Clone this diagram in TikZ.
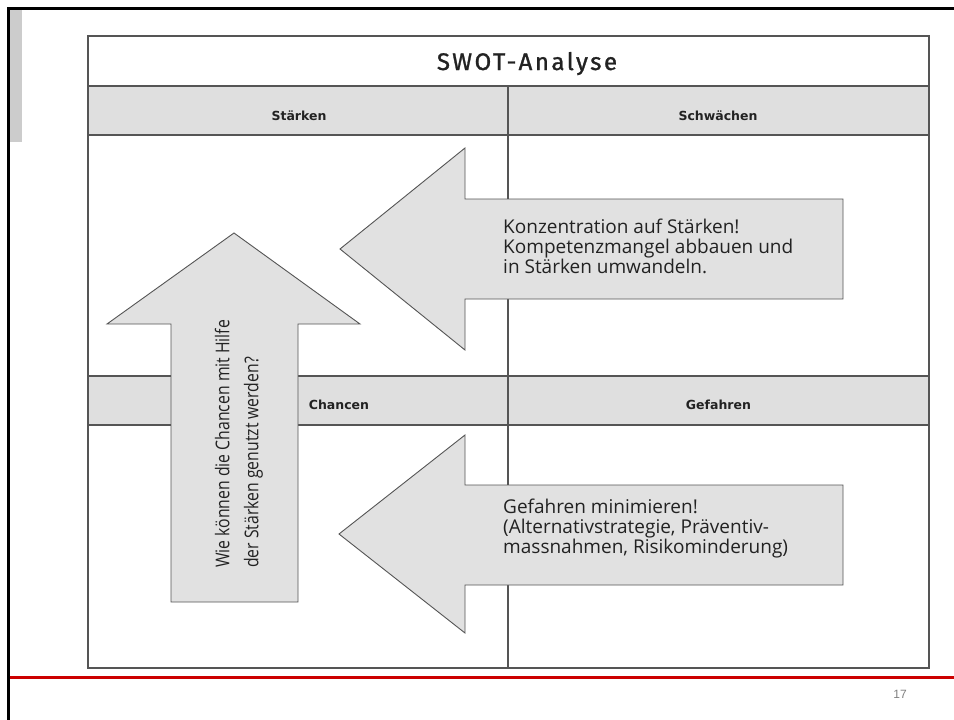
\documentclass[tikz,border=0pt]{standalone}
\usepackage{fontspec}
\setmainfont{Open Sans}
\newfontfamily\titlefont[LetterSpace=10.5, FakeBold=1.2]{Fira Sans}
\newfontfamily\headfont{DejaVu Sans}
\newfontfamily\condfont[FakeStretch=0.83]{Open Sans}
\newfontfamily\numfont{Liberation Sans}
\definecolor{sidebar}{HTML}{CCCCCC}
\definecolor{cellfill}{HTML}{DFDFDF}
\definecolor{arrowfill}{HTML}{E1E1E1}
\definecolor{gridline}{HTML}{555555}
\definecolor{inkdark}{HTML}{222222}
\definecolor{footred}{HTML}{CC0000}
\definecolor{pagegray}{HTML}{808080}
\begin{document}
\begin{tikzpicture}[x=1pt,y=-1pt,
  gridstroke/.style={draw=gridline, line width=1.3pt},
  headband/.style={fill=cellfill},
  bigarrow/.style={fill=arrowfill, draw=gridline, line width=0.9pt, line join=miter},
  headlabel/.style={font=\headfont\bfseries\fontsize{12.5}{14}\selectfont, text=inkdark, inner sep=0pt, anchor=base},
  arrowtext/.style={font=\fontsize{19}{20}\selectfont, text=inkdark, align=left, inner sep=0pt},
  risetext/.style={font=\condfont\fontsize{19}{29}\selectfont, text=inkdark, align=left, inner sep=0pt, rotate=90}]
\useasboundingbox (0,0) rectangle (954,720);
\fill[white] (0,0) rectangle (954,720);

% slide frame
\fill[sidebar] (10,10) rectangle (22,142);
\draw[black, line width=2.5pt] (954,8.5) -- (8.5,8.5) -- (8.5,720);
\draw[footred, line width=3pt] (9.7,677) -- (954,677);
\node[font=\numfont\fontsize{12}{14}\selectfont, text=pagegray, inner sep=0pt] (pagenum) at (900,694) {17};

% SWOT table
\fill[headband] (88,86) rectangle (929,135);
\fill[headband] (88,376) rectangle (929,425);
\draw[gridstroke] (88,36) rectangle (929,668);
\draw[gridstroke] (88,86) -- (929,86);
\draw[gridstroke] (88,135) -- (929,135);
\draw[gridstroke] (88,376) -- (929,376);
\draw[gridstroke] (88,425) -- (929,425);
\draw[gridstroke] (508,86) -- (508,668);

\node[font=\titlefont\fontsize{24}{26}\selectfont, text=inkdark, inner sep=0pt, anchor=base] (title) at (527,70) {SWOT-Analyse};
\node[headlabel] (staerken) at (299,120) {Stärken};
\node[headlabel] (schwaechen) at (718,120) {Schwächen};
\node[headlabel] (chancen) at (339,409) {Chancen};
\node[headlabel] (gefahren) at (718.5,409) {Gefahren};

% block arrows
\path[bigarrow] (340,249) -- (465,148) -- (465,199) -- (843,199) -- (843,299)
  -- (465,299) -- (465,350) -- cycle;
\path[bigarrow] (339,534) -- (465,435) -- (465,485) -- (843,485) -- (843,585)
  -- (465,585) -- (465,633) -- cycle;
\path[bigarrow] (234,233) -- (360,324) -- (298,324) -- (298,602) -- (171,602)
  -- (171,324) -- (107,324) -- cycle;

\node[arrowtext, anchor=west] (strengthnote) at (503,246)
  {Konzentration auf Stärken!\\Kompetenzmangel abbauen und\\in Stärken umwandeln.};
\node[arrowtext, anchor=west] (threatnote) at (503,529)
  {Gefahren minimieren!\\(Alternativstrategie, Präventiv-\\massnahmen, Risikominderung)};
\node[risetext, anchor=west] (chancenote) at (239,568)
  {Wie können die Chancen mit Hilfe\\der Stärken genutzt werden?};
\end{tikzpicture}
\end{document}
